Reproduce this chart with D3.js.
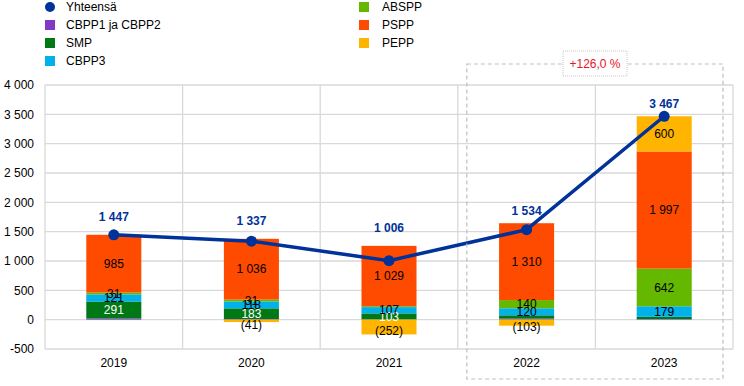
<!DOCTYPE html>
<html>
<head>
<meta charset="utf-8">
<script src="https://cdn.jsdelivr.net/npm/d3@7"></script>
<style>
  body { margin: 0; background: #fff; }
  svg { font-family: "Liberation Sans", Arial, sans-serif; }
</style>
</head>
<body>
<svg id="chart" width="744" height="386"></svg>
<script>
const years = ["2019", "2020", "2021", "2022", "2023"];
const seriesNames = ["CBPP1 ja CBPP2", "SMP", "CBPP3", "ABSPP", "PSPP", "PEPP"];
const seriesColors = ["#8139c6", "#007816", "#00b1ea", "#65b800", "#ff4b00", "#ffb400"];
const cbpp12 = [19, 10, 4, 17, 9];
const smp = [291, 183, 103, 57, 40];
const cbpp3 = [121, 118, 107, 120, 179];
const abspp = [31, 31, 15, 140, 642];
const pspp = [985, 1036, 1029, 1310, 1997];
const pepp = [0, -41, -252, -103, 600];
const totals = [1447, 1337, 1006, 1534, 3467];
const yTicks = [-500, 0, 500, 1000, 1500, 2000, 2500, 3000, 3500, 4000];
const changeLabel = "+126,0 %";
const unlabelled = [["SMP", "2022"], ["SMP", "2023"]];

const values = [cbpp12, smp, cbpp3, abspp, pspp, pepp];
const svg = d3.select("#chart");
const margin = {left: 45, right: 11, top: 85, bottom: 37};
const width = 744, height = 386;
const fs = 12;

const x = d3.scaleBand().domain(years).range([margin.left, width - margin.right]).paddingInner(0).paddingOuter(0);
const y = d3.scaleLinear().domain([-500, 4000]).range([height - margin.bottom, margin.top]);
const fmt = v => d3.format(",")(Math.abs(v)).replace(/,/g, " ");
const fmtTick = v => (v < 0 ? "-" : "") + fmt(v);

// grid
const grid = svg.append("g");
grid.selectAll("line.h").data(yTicks).join("line")
  .attr("x1", margin.left).attr("x2", width - margin.right)
  .attr("y1", d => y(d)).attr("y2", d => y(d))
  .attr("stroke", "#d9d9d9").attr("stroke-width", 1.3);
const vlines = years.map(d => x(d)).concat([width - margin.right]);
grid.selectAll("line.v").data(vlines).join("line")
  .attr("x1", d => d).attr("x2", d => d)
  .attr("y1", y(4000)).attr("y2", y(-500))
  .attr("stroke", "#d9d9d9").attr("stroke-width", 1.3);

// y axis labels
svg.append("g").selectAll("text").data(yTicks).join("text")
  .attr("x", 34).attr("y", d => y(d)).attr("dy", "0.35em")
  .attr("text-anchor", "end").attr("font-size", fs).attr("fill", "#000")
  .text(fmtTick);

// x axis labels
svg.append("g").selectAll("text").data(years).join("text")
  .attr("x", d => x(d) + x.bandwidth() / 2).attr("y", 363).attr("dy", "0.35em")
  .attr("text-anchor", "middle").attr("font-size", fs).attr("fill", "#000")
  .text(d => d);

// stacked bars
const barW = x.bandwidth() * 0.4;
const segs = [];
const barTops = [];
years.forEach((yr, i) => {
  let pos = 0, neg = 0;
  seriesNames.forEach((s, k) => {
    const v = values[k][i];
    if (v === 0) return;
    let y0, y1;
    if (v > 0) { y0 = pos; y1 = pos + v; pos = y1; }
    else { y0 = neg; y1 = neg + v; neg = y1; }
    segs.push({yr, s, k, v, y0, y1});
  });
  barTops.push(pos);
});
const bars = svg.append("g");
bars.selectAll("rect").data(segs).join("rect")
  .attr("x", d => x(d.yr) + (x.bandwidth() - barW) / 2)
  .attr("width", barW)
  .attr("y", d => y(Math.max(d.y0, d.y1)))
  .attr("height", d => Math.abs(y(d.y0) - y(d.y1)))
  .attr("fill", d => seriesColors[d.k]);

const isLabelled = d => Math.abs(d.v) >= 25 && d.s !== "CBPP1 ja CBPP2" &&
  !unlabelled.some(u => u[0] === d.s && u[1] === d.yr);
bars.selectAll("text").data(segs.filter(isLabelled)).join("text")
  .attr("x", d => x(d.yr) + x.bandwidth() / 2)
  .attr("y", d => y((d.y0 + d.y1) / 2) + (d.v < 0 ? 4 : 0))
  .attr("dy", "0.35em").attr("text-anchor", "middle").attr("font-size", fs)
  .attr("fill", d => d.s === "SMP" ? "#fff" : "#000")
  .text(d => d.v < 0 ? "(" + fmt(d.v) + ")" : fmt(d.v));

// totals line
const cx = d => x(d) + x.bandwidth() / 2;
const line = d3.line().x((d, i) => cx(years[i])).y(d => y(d));
svg.append("path").datum(totals).attr("d", line)
  .attr("fill", "none").attr("stroke", "#003299").attr("stroke-width", 3.5);
svg.append("g").selectAll("circle").data(totals).join("circle")
  .attr("cx", (d, i) => cx(years[i])).attr("cy", d => y(d)).attr("r", 5.5)
  .attr("fill", "#003299");
svg.append("g").selectAll("text").data(totals).join("text")
  .attr("x", (d, i) => cx(years[i]))
  .attr("y", (d, i) => y(Math.max(d, barTops[i])) - (i < 3 ? 18 : 12)).attr("dy", "0.35em")
  .attr("text-anchor", "middle").attr("font-size", fs).attr("font-weight", "bold")
  .attr("fill", "#003299").text(fmt);

// highlight box around 2022-2023
const bx0 = x("2022") + 9, bx1 = width - 21;
svg.append("rect").attr("x", bx0).attr("y", 64).attr("width", bx1 - bx0).attr("height", 315)
  .attr("fill", "none").attr("stroke", "#bfbfbf").attr("stroke-width", 1.2)
  .attr("stroke-dasharray", "4,3");
svg.append("rect").attr("x", 563).attr("y", 51).attr("width", 64).attr("height", 25)
  .attr("fill", "#fff").attr("stroke", "#c8c8c8").attr("stroke-dasharray", "1,1");
svg.append("text").attr("x", 595).attr("y", 63.5).attr("dy", "0.35em")
  .attr("text-anchor", "middle").attr("font-size", fs).attr("fill", "#e8141e")
  .text(changeLabel);

// legend
const legendItems = [
  {name: "Yhteensä", color: "#003299", circle: true, col: 0, row: 0},
  {name: seriesNames[0], color: seriesColors[0], col: 0, row: 1},
  {name: seriesNames[1], color: seriesColors[1], col: 0, row: 2},
  {name: seriesNames[2], color: seriesColors[2], col: 0, row: 3},
  {name: seriesNames[3], color: seriesColors[3], col: 1, row: 0},
  {name: seriesNames[4], color: seriesColors[4], col: 1, row: 1},
  {name: seriesNames[5], color: seriesColors[5], col: 1, row: 2}
];
const lg = svg.append("g").selectAll("g").data(legendItems).join("g")
  .attr("transform", d => `translate(${d.col ? 364 : 50},${7 + d.row * 18})`);
lg.filter(d => d.circle).append("circle").attr("r", 5).attr("fill", d => d.color);
lg.filter(d => !d.circle).append("rect").attr("x", -5).attr("y", -5)
  .attr("width", 10).attr("height", 10).attr("fill", d => d.color);
lg.append("text").attr("x", d => d.col ? 18 : 16).attr("dy", "0.35em")
  .attr("font-size", fs).attr("fill", "#000").text(d => d.name);
</script>
</body>
</html>
